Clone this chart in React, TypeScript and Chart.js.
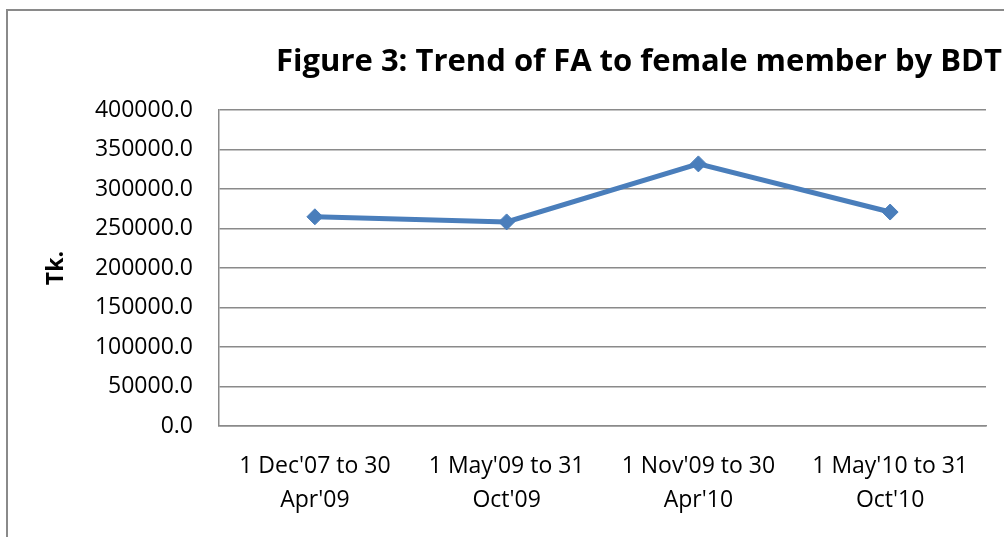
import React, { useEffect, useRef } from "react";
import { Chart, registerables } from "chart.js";

Chart.register(...registerables);

const categories: string[][] = [
  ["1 Dec'07 to 30", "Apr'09"],
  ["1 May'09 to 31", "Oct'09"],
  ["1 Nov'09 to 30", "Apr'10"],
  ["1 May'10 to 31", "Oct'10"],
];
const values: number[] = [265000, 258500, 332000, 271000];
const yMin = 0;
const yMax = 400000;
const yStep = 50000;
const titleText = "Figure 3: Trend of FA to female member by BDT";
const yTitle = "Tk.";

const FONT = "'Open Sans', 'DejaVu Sans', sans-serif";
const CANVAS_W = 1278;
const CANVAS_H = 537;

export default function App() {
  const ref = useRef<HTMLCanvasElement | null>(null);

  useEffect(() => {
    let chart: Chart | null = null;
    let cancelled = false;
    const make = async () => {
      try {
        await Promise.all([
          document.fonts.load("bold 31px 'Open Sans'"),
          document.fonts.load("23px 'Open Sans'"),
        ]);
      } catch (e) {}
      if (cancelled || !ref.current) return;
      chart = new Chart(ref.current, {
        type: "line",
        data: {
          labels: categories,
          datasets: [
            {
              data: values,
              borderColor: "#4A7EBB",
              backgroundColor: "#4A7EBB",
              borderWidth: 5,
              pointStyle: "rectRot",
              pointRadius: 8,
              pointBorderWidth: 1,
              pointBackgroundColor: "#4A7EBB",
              pointBorderColor: "#4A7EBB",
              tension: 0,
              yAxisID: "y",
            },
          ],
        },
        options: {
          animation: false,
          responsive: false,
          maintainAspectRatio: false,
          layout: { padding: 0 },
          plugins: {
            legend: { display: false },
            tooltip: { enabled: false },
            title: {
              display: true,
              text: titleText,
              color: "#000",
              font: { family: FONT, size: 31, weight: "bold", lineHeight: 1.2 },
              padding: { top: 44, bottom: 29 },
            },
          },
          scales: {
            x: {
              offset: true,
              grid: { display: false, drawTicks: false },
              border: { display: true, color: "#8a8a8a", width: 1.5 },
              ticks: {
                color: "#000",
                font: { family: FONT, size: 23, lineHeight: 1.45 },
                padding: 24,
                maxRotation: 0,
                autoSkip: false,
              },
              afterFit: (s: any) => {
                s.height = CANVAS_H - 426;
              },
            },
            y: {
              position: "left",
              min: yMin,
              max: yMax,
              grid: { color: "#8a8a8a", lineWidth: 1.5, drawTicks: false },
              border: { display: true, color: "#8a8a8a", width: 1.5 },
              ticks: {
                stepSize: yStep,
                color: "#000",
                padding: 26,
                font: { family: FONT, size: 23 },
                callback: (v: any) => Number(v).toFixed(1),
              },
              title: {
                display: true,
                text: yTitle,
                color: "#000",
                font: { family: FONT, size: 23, weight: "bold", lineHeight: 1.2 },
                padding: { top: 43, bottom: 0 },
              },
              afterFit: (s: any) => {
                s.width = 219;
              },
            },
            spacer: {
              type: "linear",
              position: "right",
              display: true,
              grid: { display: false, drawTicks: false },
              border: { display: false },
              ticks: { display: false },
              afterFit: (s: any) => {
                s.width = CANVAS_W - 986;
              },
            },
          },
        },
      });
    };
    make();
    return () => {
      cancelled = true;
      if (chart) chart.destroy();
    };
  }, []);

  return (
    <div
      style={{
        position: "fixed",
        left: 0,
        top: 0,
        width: 1004,
        height: 537,
        overflow: "hidden",
        background: "#fff",
      }}
    >
      <div
        style={{
          position: "absolute",
          left: 6,
          top: 9,
          width: 1200,
          height: 700,
          border: "2px solid #8a8a8a",
          boxSizing: "border-box",
        }}
      />
      <canvas
        ref={ref}
        width={CANVAS_W}
        height={CANVAS_H}
        style={{ position: "absolute", left: 0, top: 0, width: CANVAS_W, height: CANVAS_H }}
      />
    </div>
  );
}
